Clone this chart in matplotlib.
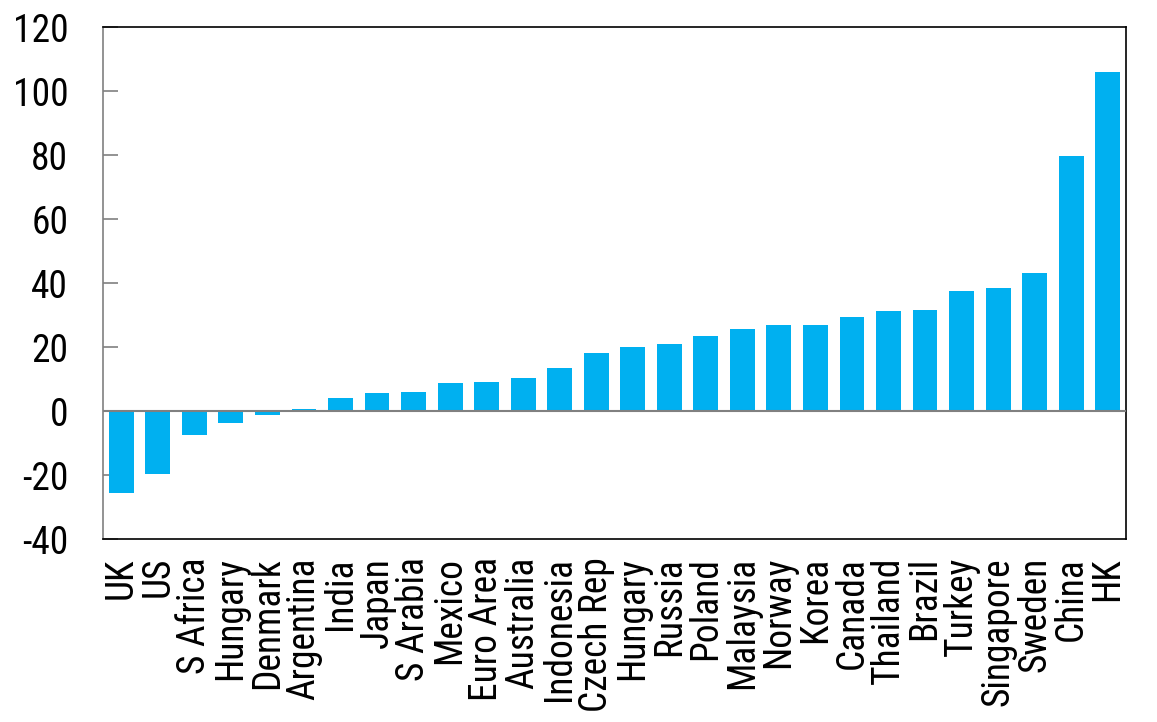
import matplotlib
matplotlib.use("Agg")
import matplotlib.pyplot as plt
from matplotlib import font_manager as fm
import numpy as np

countries = ["UK", "US", "S Africa", "Hungary", "Denmark", "Argentina", "India",
             "Japan", "S Arabia", "Mexico", "Euro Area", "Australia", "Indonesia",
             "Czech Rep", "Hungary", "Russia", "Poland", "Malaysia", "Norway",
             "Korea", "Canada", "Thailand", "Brazil", "Turkey", "Singapore",
             "Sweden", "China", "HK"]
values = [-25.5, -19.6, -7.4, -3.6, -1.2, 0.7, 4.2, 5.7, 6.0, 8.8, 9.2, 10.4,
          13.5, 18.2, 20.1, 21.0, 23.5, 25.7, 27.0, 27.0, 29.5, 31.4, 31.6,
          37.5, 38.4, 43.1, 79.8, 106.0]
yticks = [-40, -20, 0, 20, 40, 60, 80, 100, 120]

# the source uses a narrow Arial; pick a narrow sans if one is installed
installed = {f.name for f in fm.fontManager.ttflist}
family, fsize = "Liberation Sans", 21.5
for cand in ["Liberation Sans Narrow", "Arial Narrow", "Roboto Condensed",
             "Open Sans Condensed", "Archivo Narrow"]:
    if cand in installed:
        family, fsize = cand, 27
        break
plt.rcParams["font.family"] = [family, "DejaVu Sans"]

fig = plt.figure(figsize=(11.57, 7.22), dpi=100)
ax = fig.add_axes([103 / 1157, 1 - 539 / 722, (1126 - 103) / 1157, (539 - 27) / 722])

x = np.arange(len(countries))
ax.bar(x, values, width=0.68, color="#00B0F0", zorder=2)
ax.axhline(0, color="#808080", lw=1.5, zorder=3)

ax.set_xlim(-0.5, len(countries) - 0.5)
ax.set_ylim(-40, 120)
ax.set_yticks(yticks)
ax.set_yticklabels([str(t) for t in yticks], fontsize=fsize)
ax.set_xticks(x)
ax.set_xticklabels(countries, rotation=90, fontsize=fsize, ha="center", va="top")

ax.tick_params(axis="y", direction="in", length=11, width=1.2, color="#808080", pad=25)
ax.tick_params(axis="x", length=0, pad=13)

ax.spines["left"].set_color("#808080")
ax.spines["left"].set_linewidth(1.2)
for s in ("top", "right", "bottom"):
    ax.spines[s].set_color("black")
    ax.spines[s].set_linewidth(1.2)

fig.savefig("out.png", dpi=100)
